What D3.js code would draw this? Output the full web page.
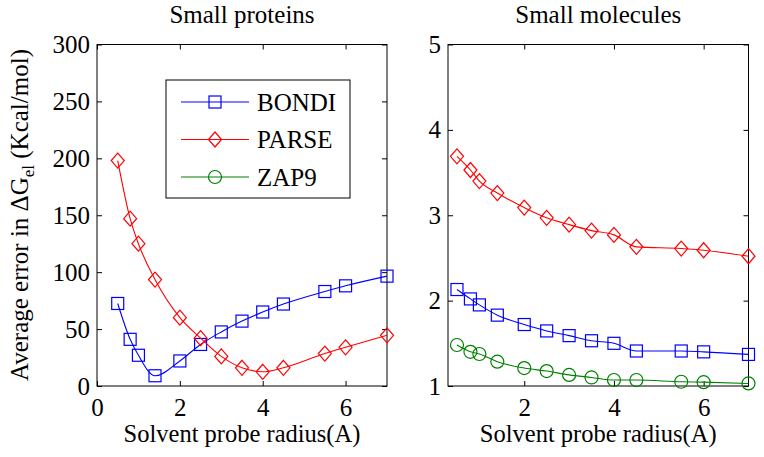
<!DOCTYPE html>
<html><head><meta charset="utf-8">
<script src="https://cdn.jsdelivr.net/npm/d3@7"></script>
<style>
body{margin:0;background:#fff;}
svg text{font-family:"Liberation Serif","Times New Roman",serif;fill:#000;}
</style></head>
<body><svg id="c" width="764" height="457"></svg>
<script>
const radius = [0.5, 0.8, 1.0, 1.4, 2.0, 2.5, 3.0, 3.5, 4.0, 4.5, 5.5, 6.0, 7.0];
// Small proteins
const proteinsBONDI = [72.5, 41, 27, 9, 22, 36.5, 47.5, 57, 65, 72, 83, 88, 96.5];
const proteinsPARSE = [198, 147, 125, 93.5, 60, 42, 26, 16, 12.5, 16, 28.5, 34, 44.5];
// Small molecules
const moleculesBONDI = [2.13, 2.02, 1.95, 1.83, 1.72, 1.645, 1.59, 1.53, 1.50, 1.41, 1.41, 1.40, 1.37];
const moleculesPARSE = [3.69, 3.53, 3.40, 3.26, 3.09, 2.97, 2.89, 2.82, 2.77, 2.63, 2.61, 2.59, 2.52];
const moleculesZAP9 = [1.48, 1.40, 1.375, 1.285, 1.21, 1.175, 1.13, 1.10, 1.07, 1.07, 1.05, 1.045, 1.03];
const leftXTicks = [0, 2, 4, 6];
const rightXTicks = [2, 4, 6];
const leftYTicks = [0, 50, 100, 150, 200, 250, 300];
const rightYTicks = [1, 2, 3, 4, 5];
const legendNames = ["BONDI", "PARSE", "ZAP9"];
const titles = ["Small proteins", "Small molecules"];

const colors = {BONDI:"#0000ff", PARSE:"#ff0000", ZAP9:"#008000"};
const svg = d3.select("#c");
const plotTop = 44.5, plotBottom = 386;
const FONT = '"Liberation Serif","Times New Roman",serif';
const FS = 25;

function marker(g, type, x, y, color){
  if(type==="BONDI"){
    g.append("rect").attr("x",x-6).attr("y",y-6).attr("width",12).attr("height",12)
     .attr("fill","none").attr("stroke",color).attr("stroke-width",1.2);
  } else if(type==="PARSE"){
    g.append("path").attr("d",`M${x},${y-7.5}L${x+6.5},${y}L${x},${y+7.5}L${x-6.5},${y}Z`)
     .attr("fill","none").attr("stroke",color).attr("stroke-width",1.2);
  } else {
    g.append("circle").attr("cx",x).attr("cy",y).attr("r",6.5)
     .attr("fill","none").attr("stroke",color).attr("stroke-width",1.2);
  }
}

function panel(x0, x1, xdom, ydom, xt, yt, series, title){
  const x = d3.scaleLinear().domain(xdom).range([x0, x1]);
  const y = d3.scaleLinear().domain(ydom).range([plotBottom, plotTop]);
  const g = svg.append("g");
  const tl = 5;
  const fmt = d3.format("d");
  const mk = (axis, sc, ticks) => axis(sc).tickValues(ticks).tickSizeOuter(0).tickFormat(fmt);
  const gb = g.append("g").attr("transform",`translate(0,${plotBottom})`)
    .call(mk(d3.axisBottom, x, xt).tickSize(-tl).tickPadding(12));
  const gt = g.append("g").attr("transform",`translate(0,${plotTop})`)
    .call(mk(d3.axisTop, x, xt).tickSize(-tl).tickFormat(""));
  const gl = g.append("g").attr("transform",`translate(${x0},0)`)
    .call(mk(d3.axisLeft, y, yt).tickSize(-tl).tickPadding(7));
  const gr = g.append("g").attr("transform",`translate(${x1},0)`)
    .call(mk(d3.axisRight, y, yt).tickSize(-tl).tickFormat(""));
  [gb,gt,gl,gr].forEach(a=>{
    a.attr("font-family",FONT);
    a.select(".domain").remove();
    a.selectAll("line").attr("stroke","#000").attr("stroke-width",1);
    a.selectAll("text").attr("font-size",FS);
  });
  g.append("rect").attr("x",x0).attr("y",plotTop).attr("width",x1-x0).attr("height",plotBottom-plotTop)
   .attr("fill","none").attr("stroke","#000").attr("stroke-width",1);
  series.forEach(s=>{
    const line = d3.line().x((d,i)=>x(radius[i])).y(d=>y(d)).curve(d3.curveMonotoneX);
    g.append("path").datum(s.values).attr("d",line).attr("fill","none")
      .attr("stroke",colors[s.name]).attr("stroke-width",1.1);
    s.values.forEach((v,i)=>marker(g, s.name, x(radius[i]), y(v), colors[s.name]));
  });
  g.append("text").attr("x",(x0+x1)/2).attr("y",23).attr("text-anchor","middle")
   .attr("font-size",FS).text(title);
  g.append("text").attr("x",(x0+x1)/2).attr("y",442).attr("text-anchor","middle")
   .attr("font-size",24.5).text("Solvent probe radius(A)");
  return {x,y};
}

panel(97, 387, [0,7], [0,300], leftXTicks, leftYTicks,
  [{name:"BONDI",values:proteinsBONDI},{name:"PARSE",values:proteinsPARSE}], titles[0]);
panel(448, 748.5, [0.3,7], [1,5], rightXTicks, rightYTicks,
  [{name:"BONDI",values:moleculesBONDI},{name:"PARSE",values:moleculesPARSE},{name:"ZAP9",values:moleculesZAP9}], titles[1]);

const lg = svg.append("g");
lg.append("rect").attr("x",166).attr("y",80).attr("width",184).attr("height",118)
  .attr("fill","#fff").attr("stroke","#000").attr("stroke-width",1);
legendNames.forEach((n,i)=>{
  const yy = 102 + i*37.5;
  lg.append("line").attr("x1",181).attr("x2",249).attr("y1",yy).attr("y2",yy)
    .attr("stroke",colors[n]).attr("stroke-width",1.1);
  marker(lg, n, 215, yy, colors[n]);
  lg.append("text").attr("x",257).attr("y",yy+8.5).attr("font-size",FS).text(n);
});

const yl = svg.append("text").attr("transform","translate(28,215) rotate(-90)")
  .attr("text-anchor","middle").attr("font-size",FS);
yl.append("tspan").text("Average error in ΔG");
yl.append("tspan").attr("font-size",17).attr("dy",6).text("el");
yl.append("tspan").attr("dy",-6).text("  (Kcal/mol)");
</script></body></html>
